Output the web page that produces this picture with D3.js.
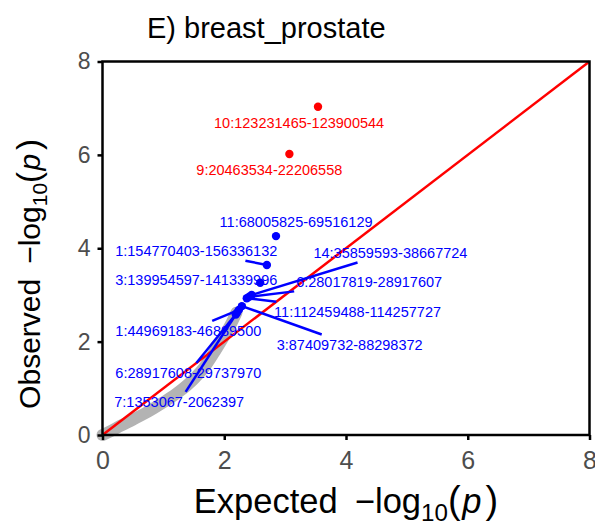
<!DOCTYPE html>
<html lang="en">
<head>
<meta charset="UTF-8">
<title>QQ breast_prostate</title>
<script src="https://cdn.jsdelivr.net/npm/d3@7/dist/d3.min.js"></script>
<style>
  body { margin: 0; background: #fff; }
  text { font-family: "Liberation Sans", Arial, Helvetica, sans-serif; }
  .axis path { display: none; }
  .axis line { stroke: #000; stroke-width: 2.5; }
  .axis text { fill: #4d4d4d; }
</style>
</head>
<body>
<script>
// background QQ points (expected vs observed -log10 p), read along the grey band
let bgExpected = [0, 0.1, 0.3, 0.5, 0.75, 1.0, 1.25, 1.5, 1.7, 1.85, 2.0, 2.1, 2.2]
let bgObserved = [0, 0.06, 0.2, 0.33, 0.5, 0.7, 0.92, 1.2, 1.5, 1.8, 2.12, 2.35, 2.62]

// labelled regions
let regions = [
  "10:123231465-123900544", "9:20463534-22206558", "11:68005825-69516129",
  "1:154770403-156336132", "3:139954597-141339996", "14:35859593-38667724",
  "6:28017819-28917607", "11:112459488-114257727", "3:87409732-88298372",
  "1:44969183-46889500", "6:28917608-29737970", "7:1353067-2062397"
]
let regExpected = [3.54, 3.07, 2.85, 2.70, 2.59, 2.45, 2.41, 2.37, 2.29, 2.24, 2.21, 2.19]
let regObserved = [7.03, 6.02, 4.26, 3.64, 3.26, 3.00, 2.96, 2.93, 2.76, 2.68, 2.62, 2.58]
let regColour = ["red", "red", "blue", "blue", "blue", "blue", "blue", "blue", "blue", "blue", "blue", "blue"]
// where the repelled labels ended up
let labExpected = [3.23, 2.74, 3.18, 1.54, 1.54, 4.73, 4.38, 4.19, 4.06, 1.41, 1.41, 1.26]
let labObserved = [6.68, 5.67, 4.57, 3.95, 3.33, 3.91, 3.27, 2.64, 1.94, 2.23, 1.33, 0.71]

let xTicks = [0, 2, 4, 6, 8]
let yTicks = [0, 2, 4, 6, 8]

let w = 595, h = 529
let margin = {top: 61.5, right: 5.5, bottom: 94, left: 102.5}

let xScale = d3.scaleLinear().domain([0, 8]).range([margin.left, w - margin.right])
let yScale = d3.scaleLinear().domain([0, 8]).range([h - margin.bottom, margin.top])

let svg = d3.select("body").append("svg")
  .attr("width", w)
  .attr("height", h)

// title
svg.append("text")
  .attr("x", 147)
  .attr("y", 38)
  .attr("font-size", "29px")
  .attr("fill", "#000")
  .text("E) breast_prostate")

// grey background band
let bg = bgExpected.map((d, i) => [d, bgObserved[i]])
svg.append("path")
  .datum(bg)
  .attr("fill", "none")
  .attr("stroke", "#b3b3b3")
  .attr("stroke-width", 12)
  .attr("stroke-linecap", "round")
  .attr("stroke-linejoin", "round")
  .attr("d", d3.line().curve(d3.curveMonotoneX).x(d => xScale(d[0])).y(d => yScale(d[1])))

// y = x
svg.append("line")
  .attr("x1", xScale(0)).attr("y1", yScale(0))
  .attr("x2", xScale(8)).attr("y2", yScale(8))
  .attr("stroke", "red")
  .attr("stroke-width", 2.5)

let regs = regions.map((r, i) => ({
  name: r, x: regExpected[i], y: regObserved[i], col: regColour[i],
  lx: labExpected[i], ly: labObserved[i]
}))

let segG = svg.append("g")
let ptG = svg.append("g")
let labG = svg.append("g")

let labels = labG.selectAll("text")
  .data(regs)
  .enter()
  .append("text")
  .attr("x", d => xScale(d.lx))
  .attr("y", d => yScale(d.ly))
  .attr("dy", "0.35em")
  .attr("text-anchor", "middle")
  .attr("font-size", "14.5px")
  .attr("fill", d => d.col)
  .text(d => d.name)

// segments from point to the edge of its label box
labels.each(function (d) {
  let b = this.getBBox(), pad = 2
  let x0 = b.x - pad, x1 = b.x + b.width + pad, y0 = b.y - pad, y1 = b.y + b.height + pad
  let px = xScale(d.x), py = yScale(d.y)
  let cx = xScale(d.lx), cy = yScale(d.ly)
  if (px > x0 && px < x1 && py > y0 && py < y1) return
  let dx = cx - px, dy = cy - py
  let tx = 0, ty = 0
  if (dx > 0) tx = (x0 - px) / dx
  if (dx < 0) tx = (x1 - px) / dx
  if (dy > 0) ty = (y0 - py) / dy
  if (dy < 0) ty = (y1 - py) / dy
  let t = Math.max(tx, ty, 0)
  let ex = px + dx * t, ey = py + dy * t
  if (Math.hypot(ex - px, ey - py) < 12) return
  segG.append("line")
    .attr("x1", px).attr("y1", py)
    .attr("x2", ex).attr("y2", ey)
    .attr("stroke", d.col)
    .attr("stroke-width", 2.5)
})

ptG.selectAll("circle")
  .data(regs)
  .enter()
  .append("circle")
  .attr("cx", d => xScale(d.x))
  .attr("cy", d => yScale(d.y))
  .attr("r", 4.2)
  .attr("fill", d => d.col)

// axes
let xAxis = d3.axisBottom(xScale).tickValues(xTicks).tickSize(5).tickPadding(11)
let yAxis = d3.axisLeft(yScale).tickValues(yTicks).tickSize(5).tickPadding(7)

svg.append("g")
  .attr("class", "axis")
  .attr("transform", "translate(0," + (h - margin.bottom) + ")")
  .call(xAxis)
  .selectAll("text").attr("font-size", "25px")

svg.append("g")
  .attr("class", "axis")
  .attr("transform", "translate(" + margin.left + ",0)")
  .call(yAxis)
  .selectAll("text").attr("font-size", "23px")

// panel border
svg.append("rect")
  .attr("x", xScale(0)).attr("y", yScale(8))
  .attr("width", xScale(8) - xScale(0))
  .attr("height", yScale(0) - yScale(8))
  .attr("fill", "none")
  .attr("stroke", "#000")
  .attr("stroke-width", 2.5)

// axis titles with -log10(p)
function mathTitle(t, word, fs) {
  t.attr("font-size", fs + "px").attr("fill", "#000")
  t.append("tspan").text(word + "\u2002\u2212")
  t.append("tspan").text("log")
  t.append("tspan").attr("font-size", (fs * 0.7) + "px").attr("dy", fs * 0.22).text("10")
  t.append("tspan").attr("dy", -fs * 0.22).attr("font-size", (fs * 1.1) + "px").text("(")
  t.append("tspan").attr("font-style", "italic").attr("dx", fs * 0.05).text("p")
  t.append("tspan").attr("dx", fs * 0.12).attr("font-size", (fs * 1.1) + "px").text(")")
}

svg.append("text")
  .attr("x", (xScale(0) + xScale(8)) / 2)
  .attr("y", 513)
  .attr("text-anchor", "middle")
  .call(mathTitle, "Expected", 34.5)

svg.append("text")
  .attr("transform", "translate(40,274) rotate(-90)")
  .attr("text-anchor", "middle")
  .call(mathTitle, "Observed", 30)
</script>
</body>
</html>
